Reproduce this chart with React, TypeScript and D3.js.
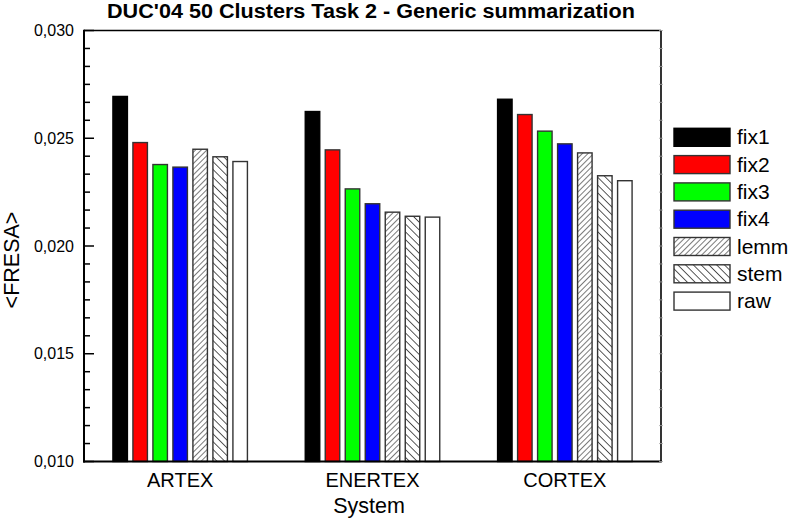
import React from "react";
import * as d3 from "d3";

const categories = ["ARTEX", "ENERTEX", "CORTEX"];
const seriesNames = ["fix1", "fix2", "fix3", "fix4", "lemm", "stem", "raw"];
const fix1 = [0.02694, 0.02624, 0.02681];
const fix2 = [0.0248, 0.02446, 0.0261];
const fix3 = [0.02378, 0.02265, 0.02533];
const fix4 = [0.02366, 0.02196, 0.02474];
const lemm = [0.02449, 0.02157, 0.02432];
const stem = [0.02414, 0.02138, 0.02326];
const raw = [0.02392, 0.02134, 0.02303];
const seriesValues = [fix1, fix2, fix3, fix4, lemm, stem, raw];
const majorTicks = [0.01, 0.015, 0.02, 0.025, 0.03];
const tickLabels = ["0,010", "0,015", "0,020", "0,025", "0,030"];
const fills = ["#000000", "#ff0000", "#00ff00", "#0000ff", "url(#hatchLemm)", "url(#hatchStem)", "#ffffff"];

const FONT = "'Liberation Sans', Arial, Helvetica, sans-serif";

export default function App() {
  const W = 790, H = 519;
  const left = 84, right = 661, top = 30.5, bottom = 461.5;
  const y = d3.scaleLinear().domain([0.01, 0.03]).range([bottom, top]);
  const x0 = d3.scaleBand<string>().domain(categories).range([left, right]).padding(0);
  const groupW = 134.5;
  const x1 = d3.scaleBand<string>().domain(seriesNames).range([0, groupW]).paddingInner(0.275).paddingOuter(0);
  const minorStep = 0.005 / 6;
  const minorTicks = d3.range(0, 25).map((i) => 0.01 + i * minorStep).filter((v) => v <= 0.0300001);

  const legendX = 674, legendY = 128.3, legendPitch = 27.3;

  return (
    <svg width={W} height={H} style={{ position: "absolute", left: 0, top: 0, background: "#fff" }} fontFamily={FONT}>
      <defs>
        <pattern id="hatchLemm" patternUnits="userSpaceOnUse" width="4" height="4" patternTransform="rotate(45)">
          <rect width="4" height="4" fill="#fff" />
          <line x1="0" y1="0" x2="0" y2="4" stroke="#333" strokeWidth="1.3" />
        </pattern>
        <pattern id="hatchStem" patternUnits="userSpaceOnUse" width="5.5" height="5.5" patternTransform="rotate(-45)">
          <rect width="5.5" height="5.5" fill="#fff" />
          <line x1="0" y1="0" x2="0" y2="5.5" stroke="#222" strokeWidth="1.5" />
        </pattern>
      </defs>
      <rect width={W} height={H} fill="#fff" />

      <text x={371} y={18} textAnchor="middle" fontWeight="bold" fontSize={20} textLength={528} lengthAdjust="spacingAndGlyphs">
        DUC'04 50 Clusters Task 2 - Generic summarization
      </text>

      {categories.map((c, ci) => {
        const gx = (x0(c) as number) + x0.bandwidth() / 2 - groupW / 2;
        return (
          <g key={c} transform={`translate(${gx},0)`}>
            {seriesNames.map((s, si) => {
              const v = seriesValues[si][ci];
              return (
                <rect
                  key={s}
                  x={x1(s) as number}
                  y={y(v)}
                  width={x1.bandwidth()}
                  height={y(0.01) - y(v)}
                  fill={fills[si]}
                  stroke={si === 0 ? "#000" : "#333"}
                  strokeWidth={1.4}
                />
              );
            })}
          </g>
        );
      })}

      {/* frame */}
      <line x1={left} x2={right} y1={top} y2={top} stroke="#000" strokeWidth={1.6} />
      <line x1={right} x2={right} y1={top} y2={bottom} stroke="#000" strokeWidth={1.6} />
      <line x1={left} x2={left} y1={top - 0.8} y2={bottom + 1} stroke="#000" strokeWidth={2} />
      <line x1={left - 1} x2={right + 0.8} y1={bottom} y2={bottom} stroke="#000" strokeWidth={2} />

      {minorTicks.map((v, i) => {
        const isMajor = i % 6 === 0;
        return (
          <g key={i}>
            <line x1={left} x2={left + (isMajor ? 10 : 6)} y1={y(v)} y2={y(v)} stroke="#000" strokeWidth={1.5} />
            <line x1={right - 2} x2={right + 2} y1={y(v)} y2={y(v)} stroke="#aaa" strokeWidth={0.8} />
          </g>
        );
      })}

      {majorTicks.map((v, i) => (
        <text key={v} x={74} y={y(v) + 5.5} textAnchor="end" fontSize={16}>
          {tickLabels[i]}
        </text>
      ))}

      {categories.map((c) => (
        <text key={c} x={(x0(c) as number) + x0.bandwidth() / 2} y={487} textAnchor="middle" fontSize={20}>
          {c}
        </text>
      ))}

      <text x={369} y={512.7} textAnchor="middle" fontSize={21.5}>
        System
      </text>
      <text transform={`translate(19,260) rotate(-90)`} textAnchor="middle" fontSize={21.5}>
        {"<FRESA>"}
      </text>

      {seriesNames.map((s, i) => (
        <g key={s}>
          <rect
            x={legendX}
            y={legendY + i * legendPitch}
            width={56}
            height={18}
            fill={fills[i]}
            stroke={i === 0 ? "#000" : "#333"}
            strokeWidth={1.4}
          />
          <text x={737} y={legendY + i * legendPitch + 16} fontSize={21}>
            {s}
          </text>
        </g>
      ))}
    </svg>
  );
}
